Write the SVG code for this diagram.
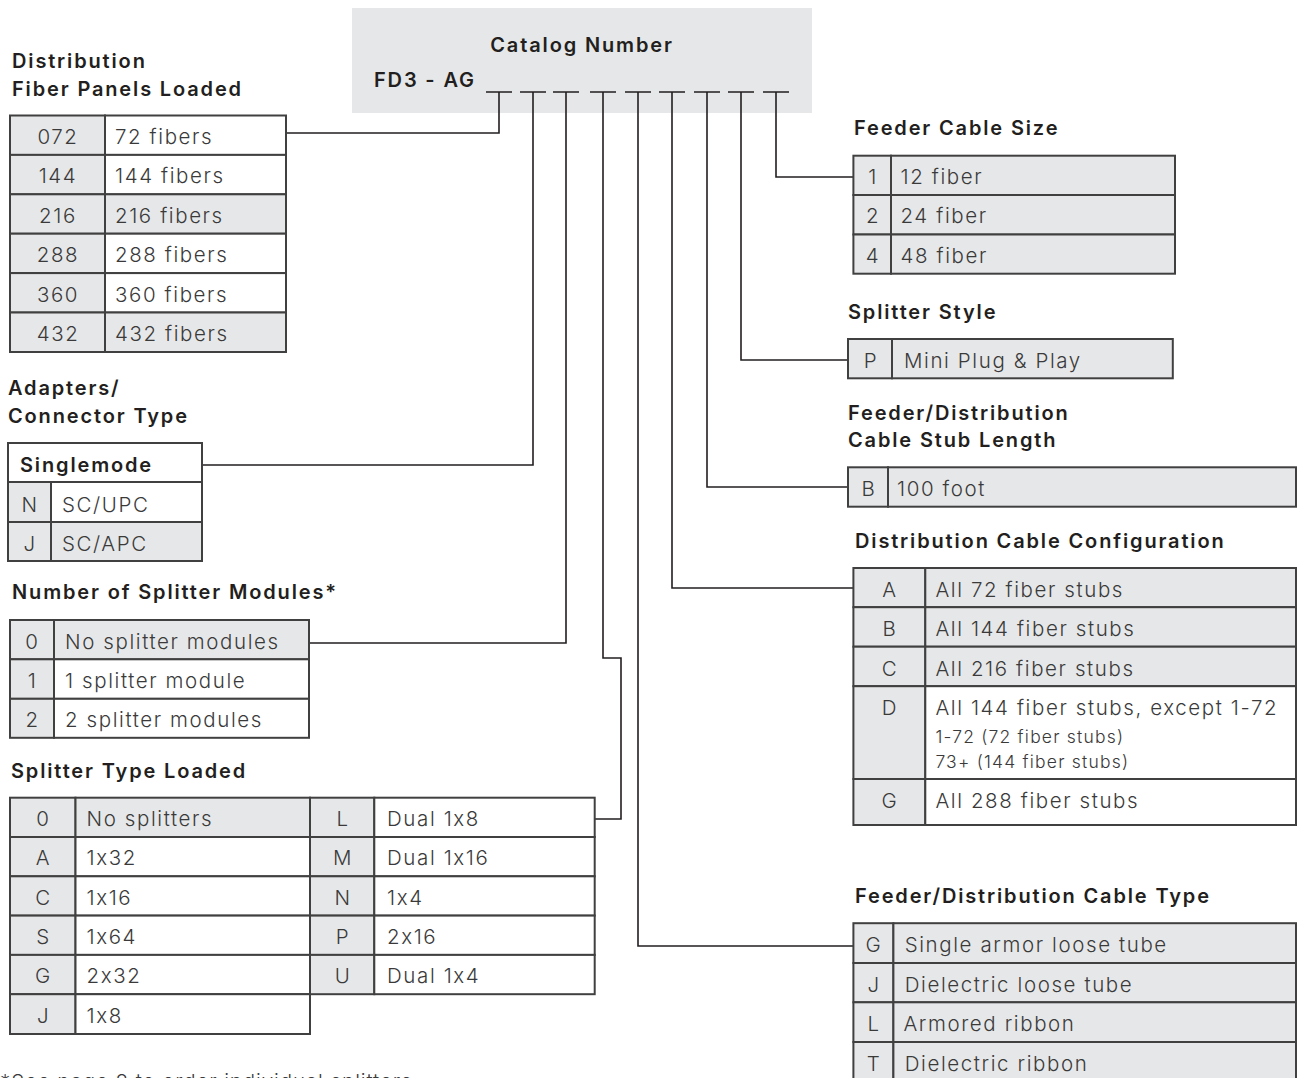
<svg xmlns="http://www.w3.org/2000/svg" width="1299" height="1078" viewBox="0 0 1299 1078">
<style>
.hd{font-family:Inter,"Liberation Sans",sans-serif;font-weight:600;font-size:20px;letter-spacing:1.85px;fill:#231f20}
.tx{font-family:Inter,"Liberation Sans",sans-serif;font-weight:300;font-size:20.5px;letter-spacing:1.6px;fill:#3a3a3a;font-feature-settings:"calt" 0;font-variant-ligatures:no-contextual}
.sm{font-size:17.5px;letter-spacing:1.2px}
.fn{letter-spacing:0.9px}
.c{text-anchor:middle}
.g{fill:#e6e7e8;stroke:#404040;stroke-width:2}
.w{fill:#ffffff;stroke:#404040;stroke-width:2}
.cn{fill:none;stroke:#231f20;stroke-width:1.6}
</style>
<rect width="1299" height="1078" fill="#ffffff"/>

<g id="catalog">
<rect x="352" y="8" width="460" height="105" fill="#e6e7e8"/>
<text class="hd c" x="582" y="52">Catalog Number</text>
<text class="hd" x="374" y="87">FD3 - AG</text>
<g class="cn">
<path d="M486,92H512M520,92H546M553,92H579M590,92H616M625,92H651M659,92H685M694,92H720M728,92H754M763,92H789"/>
</g>
</g>

<g id="connectors" class="cn">
<path d="M499,92V133H286"/>
<path d="M533,92V465H202"/>
<path d="M566,92V643H309"/>
<path d="M603,92V658H621V819H595"/>
<path d="M638,92V946H853"/>
<path d="M672,92V588H853"/>
<path d="M707,92V487H848"/>
<path d="M741,92V360H848"/>
<path d="M776,92V177H853"/>
</g>

<g id="panels">
<text class="hd" x="12" y="68">Distribution</text>
<text class="hd" x="12" y="96">Fiber Panels Loaded</text>
<rect class="g" x="10" y="115.5" width="95" height="39.4"/><rect class="w" x="105" y="115.5" width="181" height="39.4"/>
<rect class="g" x="10" y="154.9" width="95" height="39.4"/><rect class="w" x="105" y="154.9" width="181" height="39.4"/>
<rect class="g" x="10" y="194.3" width="95" height="39.4"/><rect class="g" x="105" y="194.3" width="181" height="39.4"/>
<rect class="g" x="10" y="233.7" width="95" height="39.4"/><rect class="w" x="105" y="233.7" width="181" height="39.4"/>
<rect class="g" x="10" y="273.1" width="95" height="39.4"/><rect class="w" x="105" y="273.1" width="181" height="39.4"/>
<rect class="g" x="10" y="312.5" width="95" height="39.5"/><rect class="g" x="105" y="312.5" width="181" height="39.5"/>
<text class="tx c" x="58" y="143.5">072</text><text class="tx" x="115" y="143.5">72 fibers</text>
<text class="tx c" x="58" y="183">144</text><text class="tx" x="115" y="183">144 fibers</text>
<text class="tx c" x="58" y="222.5">216</text><text class="tx" x="115" y="222.5">216 fibers</text>
<text class="tx c" x="58" y="262">288</text><text class="tx" x="115" y="262">288 fibers</text>
<text class="tx c" x="58" y="301.5">360</text><text class="tx" x="115" y="301.5">360 fibers</text>
<text class="tx c" x="58" y="341">432</text><text class="tx" x="115" y="341">432 fibers</text>
</g>

<g id="adapters">
<text class="hd" x="8" y="395">Adapters/</text>
<text class="hd" x="8" y="423">Connector Type</text>
<rect class="w" x="8" y="443" width="194" height="39"/>
<rect class="g" x="8" y="482" width="43" height="40"/><rect class="w" x="51" y="482" width="151" height="40"/>
<rect class="g" x="8" y="522" width="43" height="39"/><rect class="g" x="51" y="522" width="151" height="39"/>
<text class="hd" x="20" y="472">Singlemode</text>
<text class="tx c" x="30" y="511.5">N</text><text class="tx" x="62" y="511.5">SC/UPC</text>
<text class="tx c" x="30" y="550.5">J</text><text class="tx" x="62" y="550.5">SC/APC</text>
</g>

<g id="modules">
<text class="hd" x="12" y="599">Number of Splitter Modules*</text>
<rect class="g" x="10" y="620" width="44" height="39.3"/><rect class="g" x="54" y="620" width="255" height="39.3"/>
<rect class="g" x="10" y="659.3" width="44" height="39.5"/><rect class="w" x="54" y="659.3" width="255" height="39.5"/>
<rect class="g" x="10" y="698.8" width="44" height="39"/><rect class="w" x="54" y="698.8" width="255" height="39"/>
<text class="tx c" x="32.5" y="649">0</text><text class="tx" x="65" y="649">No splitter modules</text>
<text class="tx c" x="32.5" y="688">1</text><text class="tx" x="65" y="688">1 splitter module</text>
<text class="tx c" x="32.5" y="727">2</text><text class="tx" x="65" y="727">2 splitter modules</text>
</g>

<g id="splitter-type">
<text class="hd" x="11" y="778">Splitter Type Loaded</text>
<rect class="g" x="10" y="797.7" width="65.5" height="39.3"/><rect class="g" x="75.5" y="797.7" width="234.5" height="39.3"/>
<rect class="g" x="10" y="837" width="65.5" height="39.3"/><rect class="w" x="75.5" y="837" width="234.5" height="39.3"/>
<rect class="g" x="10" y="876.3" width="65.5" height="39.3"/><rect class="w" x="75.5" y="876.3" width="234.5" height="39.3"/>
<rect class="g" x="10" y="915.6" width="65.5" height="39.3"/><rect class="w" x="75.5" y="915.6" width="234.5" height="39.3"/>
<rect class="g" x="10" y="954.9" width="65.5" height="39.3"/><rect class="w" x="75.5" y="954.9" width="234.5" height="39.3"/>
<rect class="g" x="10" y="994.2" width="65.5" height="39.8"/><rect class="w" x="75.5" y="994.2" width="234.5" height="39.8"/>
<rect class="g" x="310" y="797.7" width="64.3" height="39.3"/><rect class="w" x="374.3" y="797.7" width="220.4" height="39.3"/>
<rect class="g" x="310" y="837" width="64.3" height="39.3"/><rect class="w" x="374.3" y="837" width="220.4" height="39.3"/>
<rect class="g" x="310" y="876.3" width="64.3" height="39.3"/><rect class="w" x="374.3" y="876.3" width="220.4" height="39.3"/>
<rect class="g" x="310" y="915.6" width="64.3" height="39.3"/><rect class="w" x="374.3" y="915.6" width="220.4" height="39.3"/>
<rect class="g" x="310" y="954.9" width="64.3" height="39.3"/><rect class="w" x="374.3" y="954.9" width="220.4" height="39.3"/>
<text class="tx c" x="43.5" y="826">0</text><text class="tx" x="86.5" y="826">No splitters</text>
<text class="tx c" x="43.5" y="865.3">A</text><text class="tx" x="86.5" y="865.3">1x32</text>
<text class="tx c" x="43.5" y="904.6">C</text><text class="tx" x="86.5" y="904.6">1x16</text>
<text class="tx c" x="43.5" y="943.9">S</text><text class="tx" x="86.5" y="943.9">1x64</text>
<text class="tx c" x="43.5" y="983.2">G</text><text class="tx" x="86.5" y="983.2">2x32</text>
<text class="tx c" x="43.5" y="1022.5">J</text><text class="tx" x="86.5" y="1022.5">1x8</text>
<text class="tx c" x="343" y="826">L</text><text class="tx" x="387" y="826">Dual 1x8</text>
<text class="tx c" x="343" y="865.3">M</text><text class="tx" x="387" y="865.3">Dual 1x16</text>
<text class="tx c" x="343" y="904.6">N</text><text class="tx" x="387" y="904.6">1x4</text>
<text class="tx c" x="343" y="943.9">P</text><text class="tx" x="387" y="943.9">2x16</text>
<text class="tx c" x="343" y="983.2">U</text><text class="tx" x="387" y="983.2">Dual 1x4</text>
</g>

<g id="feeder-size">
<text class="hd" x="854" y="135">Feeder Cable Size</text>
<rect class="g" x="853.4" y="155.7" width="37.6" height="39.3"/><rect class="g" x="891" y="155.7" width="284" height="39.3"/>
<rect class="g" x="853.4" y="195" width="37.6" height="39.5"/><rect class="g" x="891" y="195" width="284" height="39.5"/>
<rect class="g" x="853.4" y="234.5" width="37.6" height="39.2"/><rect class="g" x="891" y="234.5" width="284" height="39.2"/>
<text class="tx c" x="873" y="183.5">1</text><text class="tx" x="900.5" y="183.5">12 fiber</text>
<text class="tx c" x="873" y="223">2</text><text class="tx" x="900.5" y="223">24 fiber</text>
<text class="tx c" x="873" y="262.5">4</text><text class="tx" x="900.5" y="262.5">48 fiber</text>
</g>

<g id="splitter-style">
<text class="hd" x="848" y="319">Splitter Style</text>
<rect class="g" x="848" y="339" width="44" height="39.3"/><rect class="g" x="892" y="339" width="280.8" height="39.3"/>
<text class="tx c" x="871" y="367.5">P</text><text class="tx" x="904" y="367.5">Mini Plug &amp; Play</text>
</g>

<g id="stub-length">
<text class="hd" x="848" y="420">Feeder/Distribution</text>
<text class="hd" x="848" y="447">Cable Stub Length</text>
<rect class="g" x="848" y="467.3" width="40" height="39.4"/><rect class="g" x="888" y="467.3" width="408" height="39.4"/>
<text class="tx c" x="869" y="495.5">B</text><text class="tx" x="897" y="495.5">100 foot</text>
</g>

<g id="dist-config">
<text class="hd" x="855" y="547.5">Distribution Cable Configuration</text>
<rect class="g" x="853.4" y="568" width="71.9" height="39.2"/><rect class="g" x="925.3" y="568" width="370.7" height="39.2"/>
<rect class="g" x="853.4" y="607.2" width="71.9" height="39.5"/><rect class="g" x="925.3" y="607.2" width="370.7" height="39.5"/>
<rect class="g" x="853.4" y="646.7" width="71.9" height="39.5"/><rect class="g" x="925.3" y="646.7" width="370.7" height="39.5"/>
<rect class="g" x="853.4" y="686.2" width="71.9" height="92.8"/><rect class="w" x="925.3" y="686.2" width="370.7" height="92.8"/>
<rect class="g" x="853.4" y="779" width="71.9" height="46"/><rect class="w" x="925.3" y="779" width="370.7" height="46"/>
<text class="tx c" x="890" y="596.5">A</text><text class="tx" x="935.4" y="596.5">All 72 fiber stubs</text>
<text class="tx c" x="890" y="636">B</text><text class="tx" x="935.4" y="636">All 144 fiber stubs</text>
<text class="tx c" x="890" y="675.5">C</text><text class="tx" x="935.4" y="675.5">All 216 fiber stubs</text>
<text class="tx c" x="890" y="715">D</text><text class="tx" x="935.4" y="715">All 144 fiber stubs, except 1-72</text>
<text class="tx sm" x="935.4" y="742.5">1-72 (72 fiber stubs)</text>
<text class="tx sm" x="935.4" y="767.5">73+ (144 fiber stubs)</text>
<text class="tx c" x="890" y="807.5">G</text><text class="tx" x="935.4" y="807.5">All 288 fiber stubs</text>
</g>

<g id="cable-type">
<text class="hd" x="855" y="903">Feeder/Distribution Cable Type</text>
<rect class="g" x="853.4" y="923.2" width="40" height="39.8"/><rect class="g" x="893.4" y="923.2" width="402.6" height="39.8"/>
<rect class="g" x="853.4" y="963" width="40" height="39.3"/><rect class="g" x="893.4" y="963" width="402.6" height="39.3"/>
<rect class="g" x="853.4" y="1002.3" width="40" height="39.7"/><rect class="g" x="893.4" y="1002.3" width="402.6" height="39.7"/>
<rect class="g" x="853.4" y="1042" width="40" height="40"/><rect class="g" x="893.4" y="1042" width="402.6" height="40"/>
<text class="tx c" x="874" y="952">G</text><text class="tx" x="904.7" y="952">Single armor loose tube</text>
<text class="tx c" x="874" y="991.5">J</text><text class="tx" x="904.7" y="991.5">Dielectric loose tube</text>
<text class="tx c" x="874" y="1031">L</text><text class="tx" x="903.4" y="1031">Armored ribbon</text>
<text class="tx c" x="874" y="1070.5">T</text><text class="tx" x="904.7" y="1070.5">Dielectric ribbon</text>
</g>

<g id="footnote">
<text class="tx fn" x="0" y="1089">*See page 8 to order individual splitters</text>
</g>
</svg>
